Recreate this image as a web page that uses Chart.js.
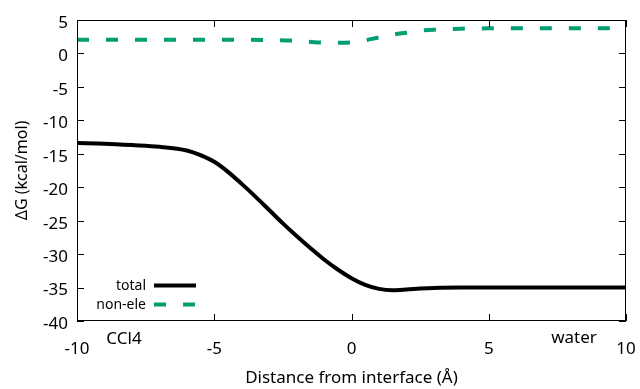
<!DOCTYPE html>
<html>
<head>
<meta charset="utf-8">
<script src="https://cdn.jsdelivr.net/npm/chart.js@4"></script>
<style>
  html, body { margin: 0; padding: 0; background: #fff; }
  #wrap { width: 640px; height: 389px; }
</style>
</head>
<body>
<div id="wrap"><canvas id="myChart" width="640" height="389"></canvas></div>
<script>
// Data
const totalX = [-10, -9, -8, -7, -6, -5.5, -5, -4.5, -4, -3.5, -3, -2.5, -2, -1.5, -1, -0.5, 0, 0.5, 1, 1.5, 2, 2.5, 3, 4, 5, 6, 7, 8, 9, 10];
const totalY = [-13.4, -13.5, -13.7, -13.95, -14.5, -15.2, -16.2, -17.7, -19.5, -21.4, -23.4, -25.4, -27.3, -29.1, -30.8, -32.3, -33.6, -34.6, -35.2, -35.4, -35.3, -35.15, -35.05, -35.0, -35.0, -35.0, -35.0, -35.0, -35.0, -35.0];

const nonEleX = [-10, -8, -6, -4, -3, -2, -1.2, -0.5, 0, 0.5, 1, 1.5, 2, 2.5, 3, 4, 5, 6, 8, 10];
const nonEleY = [2.05, 2.05, 2.05, 2.05, 2.0, 1.9, 1.65, 1.6, 1.65, 1.95, 2.4, 2.8, 3.1, 3.4, 3.55, 3.7, 3.75, 3.75, 3.75, 3.75];

const xTicks = [-10, -5, 0, 5, 10];
const yTicks = [5, 0, -5, -10, -15, -20, -25, -30, -35, -40];

const seriesNames = ['total', 'non-ele'];
const seriesColors = ['#000000', '#009e73'];

const FONT = 'Noto Sans';

function toPoints(xs, ys) {
    return xs.map((x, i) => ({ x: x, y: ys[i] }));
}

// gnuplot-like frame, inward ticks, titles, legend and side labels
const decorations = {
    id: 'decorations',
    afterDraw(chart) {
        const ctx = chart.ctx;
        const a = chart.chartArea;
        const xs = chart.scales.x;
        const ys = chart.scales.y;
        ctx.save();

        // frame
        ctx.strokeStyle = '#000';
        ctx.lineWidth = 1;
        ctx.strokeRect(a.left + 0.5, a.top + 0.5, a.right - a.left - 1, a.bottom - a.top - 1);

        // ticks, pointing inward on all four sides
        const tl = 7;
        ctx.beginPath();
        xTicks.forEach(v => {
            const px = Math.round(xs.getPixelForValue(v)) + 0.5;
            ctx.moveTo(px, a.bottom); ctx.lineTo(px, a.bottom - tl);
            ctx.moveTo(px, a.top); ctx.lineTo(px, a.top + tl);
        });
        yTicks.forEach(v => {
            const py = Math.round(ys.getPixelForValue(v)) + 0.5;
            ctx.moveTo(a.left, py); ctx.lineTo(a.left + tl, py);
            ctx.moveTo(a.right, py); ctx.lineTo(a.right - tl, py);
        });
        ctx.stroke();

        ctx.fillStyle = '#000';
        ctx.font = '17px "' + FONT + '"';
        ctx.textBaseline = 'middle';

        // y tick labels (gnuplot sets them a little below the tick)
        ctx.textAlign = 'right';
        yTicks.forEach(v => {
            ctx.fillText(String(v), a.left - 9, ys.getPixelForValue(v) + 3);
        });

        // axis titles
        ctx.textAlign = 'center';
        ctx.fillText('Distance from interface (Å)', (a.left + a.right) / 2, 378);
        ctx.save();
        ctx.translate(22, (a.top + a.bottom) / 2);
        ctx.rotate(-Math.PI / 2);
        ctx.font = '16px "' + FONT + '"';
        ctx.fillText('ΔG (kcal/mol)', 0, 0);
        ctx.restore();

        // phase labels
        ctx.fillText('CCl4', 124, 339);
        ctx.fillText('water', 574, 338);

        // legend
        ctx.font = '14px "' + FONT + '"';
        ctx.textAlign = 'right';
        const rows = [286, 305];
        seriesNames.forEach((name, i) => {
            ctx.fillStyle = '#000';
            ctx.fillText(name, 146, rows[i]);
            ctx.strokeStyle = seriesColors[i];
            ctx.lineWidth = 4;
            ctx.setLineDash(i === 0 ? [] : [12, 17]);
            ctx.beginPath();
            ctx.moveTo(154, rows[i] - 0.5);
            ctx.lineTo(196, rows[i] - 0.5);
            ctx.stroke();
        });
        ctx.setLineDash([]);
        ctx.restore();
    }
};

const ctx = document.getElementById('myChart').getContext('2d');
new Chart(ctx, {
    type: 'line',
    data: {
        datasets: [
            {
                label: seriesNames[0],
                data: toPoints(totalX, totalY),
                borderColor: seriesColors[0],
                borderWidth: 4,
                pointRadius: 0,
                cubicInterpolationMode: 'monotone',
                fill: false
            },
            {
                label: seriesNames[1],
                data: toPoints(nonEleX, nonEleY),
                borderColor: seriesColors[1],
                borderWidth: 4,
                borderDash: [12, 17],
                pointRadius: 0,
                cubicInterpolationMode: 'monotone',
                fill: false
            }
        ]
    },
    options: {
        responsive: false,
        animation: false,
        layout: { padding: { top: 20, right: 14, left: 0, bottom: 0 } },
        plugins: {
            legend: { display: false },
            tooltip: { enabled: false }
        },
        scales: {
            x: {
                type: 'linear',
                min: -10,
                max: 10,
                grid: { display: false },
                border: { display: false },
                afterBuildTicks: s => { s.ticks = xTicks.map(v => ({ value: v })); },
                afterFit: s => { s.height = 68; s.paddingLeft = 0; s.paddingRight = 0; },
                ticks: {
                    color: '#000',
                    padding: 10,
                    maxRotation: 0,
                    font: { family: FONT, size: 17 }
                }
            },
            y: {
                type: 'linear',
                min: -40,
                max: 5,
                grid: { display: false },
                border: { display: false },
                afterBuildTicks: s => { s.ticks = yTicks.map(v => ({ value: v })); },
                afterFit: s => { s.width = 77; s.paddingTop = 0; s.paddingBottom = 0; },
                ticks: { display: false }
            }
        }
    },
    plugins: [decorations]
});
</script>
</body>
</html>
